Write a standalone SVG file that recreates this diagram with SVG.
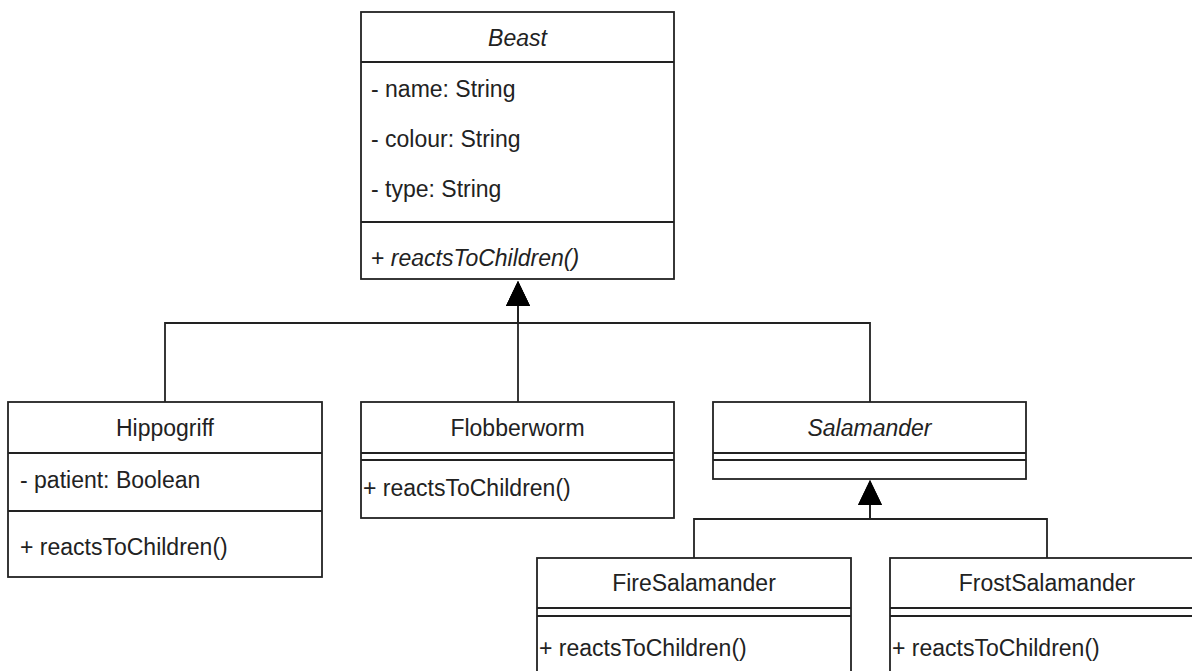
<svg xmlns="http://www.w3.org/2000/svg" width="1192" height="671" viewBox="0 0 1192 671">
<style>
.box{fill:#fff;stroke:#222;stroke-width:1.8}
.ln{fill:none;stroke:#222;stroke-width:1.8}
.t{font-family:"Liberation Sans",Arial,sans-serif;font-size:23px;fill:#222}
.c{text-anchor:middle}
.i{font-style:italic}
</style>
<defs>
<marker id="inh" viewBox="0 0 25 24" markerWidth="25" markerHeight="24" refX="0" refY="12" orient="auto" markerUnits="userSpaceOnUse">
<path d="M0 0 L25 12 L0 24 Z" fill="#000"/>
</marker>
</defs>
<rect width="1192" height="671" fill="#fff"/>
<g id="connectors">
<path class="ln" d="M165 402 V323 H518 V306" marker-end="url(#inh)"/>
<path class="ln" d="M518 402 V306" marker-end="url(#inh)"/>
<path class="ln" d="M870 402 V323 H518 V306" marker-end="url(#inh)"/>
<path class="ln" d="M694 558 V519 H870 V505" marker-end="url(#inh)"/>
<path class="ln" d="M1047 558 V519 H870 V505" marker-end="url(#inh)"/>
</g>
<g id="beast">
<rect class="box" x="361" y="12" width="313" height="267"/>
<line class="ln" x1="361" y1="62" x2="674" y2="62"/>
<line class="ln" x1="361" y1="222" x2="674" y2="222"/>
<text class="t c i" x="517.5" y="45.5">Beast</text>
<text class="t" x="371" y="97">- name: String</text>
<text class="t" x="371" y="147">- colour: String</text>
<text class="t" x="371" y="197">- type: String</text>
<text class="t" x="371" y="266">+ <tspan class="i">reactsToChildren()</tspan></text>
</g>
<g id="hippogriff">
<rect class="box" x="8" y="402" width="314" height="175"/>
<line class="ln" x1="8" y1="453" x2="322" y2="453"/>
<line class="ln" x1="8" y1="511" x2="322" y2="511"/>
<text class="t c" x="165" y="436">Hippogriff</text>
<text class="t" x="20" y="488">- patient: Boolean</text>
<text class="t" x="20" y="555">+ reactsToChildren()</text>
</g>
<g id="flobberworm">
<rect class="box" x="361" y="402" width="313" height="116"/>
<line class="ln" x1="361" y1="453" x2="674" y2="453"/>
<line class="ln" x1="361" y1="460" x2="674" y2="460"/>
<text class="t c" x="517.5" y="436">Flobberworm</text>
<text class="t" x="363" y="496">+ reactsToChildren()</text>
</g>
<g id="salamander">
<rect class="box" x="713" y="402" width="313" height="77"/>
<line class="ln" x1="713" y1="453" x2="1026" y2="453"/>
<line class="ln" x1="713" y1="460" x2="1026" y2="460"/>
<text class="t c i" x="869.5" y="436">Salamander</text>
</g>
<g id="firesalamander">
<rect class="box" x="537" y="558" width="314" height="140"/>
<line class="ln" x1="537" y1="608" x2="851" y2="608"/>
<line class="ln" x1="537" y1="616" x2="851" y2="616"/>
<text class="t c" x="694" y="591">FireSalamander</text>
<text class="t" x="539" y="656">+ reactsToChildren()</text>
</g>
<g id="frostsalamander">
<rect class="box" x="890" y="558" width="314" height="140"/>
<line class="ln" x1="890" y1="608" x2="1204" y2="608"/>
<line class="ln" x1="890" y1="616" x2="1204" y2="616"/>
<text class="t c" x="1047" y="591">FrostSalamander</text>
<text class="t" x="892" y="656">+ reactsToChildren()</text>
</g>
</svg>
